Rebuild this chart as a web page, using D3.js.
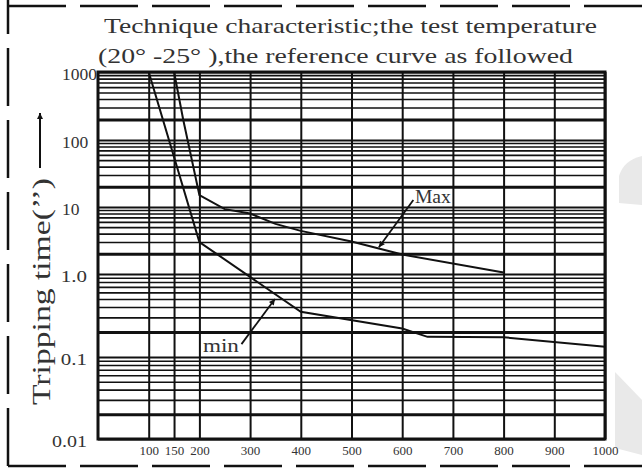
<!DOCTYPE html>
<html>
<head>
<meta charset="utf-8">
<script src="https://cdn.jsdelivr.net/npm/d3@7"></script>
<style>
  body { margin: 0; background: #fff; }
  svg text { font-family: "Liberation Serif", "DejaVu Serif", serif; fill: #333; }
</style>
</head>
<body>
<svg width="642" height="470"></svg>
<script>
const titleLines = [
  "Technique characteristic;the test temperature",
  "(20° -25° ),the reference curve as followed"
];
const yTitle = "Tripping time(’’)";

const yTickValues = [1000, 100, 10, 1, 0.1, 0.01];
const yTickLabels = ["1000", "100", "10", "1.0", "0.1", "0.01"];
const xTickValues = [100, 150, 200, 300, 400, 500, 600, 700, 800, 900, 1000];
const xTickLabels = ["100", "150", "200", "300", "400", "500", "600", "700", "800", "900", "1000"];

// Max curve (current %, seconds)
const maxCurrent = [150, 168, 200, 250, 300, 350, 400, 500, 600, 800];
const maxTime = [1000, 200, 15, 9.3, 8.0, 5.6, 4.4, 3.05, 1.95, 1.05];
// min curve
const minCurrent = [100, 200, 400, 600, 650, 800, 1000];
const minTime = [1000, 3, 0.35, 0.22, 0.175, 0.173, 0.133];

// annotations: label, text anchor, arrow tail, arrow head (data units)
const noteNames = ["Max", "min"];
const noteTextAt = [[625, 11.5], [207, 0.115]];
const noteFrom = [[622, 12.7], [283, 0.143]];
const noteTo = [[554, 2.5], [349, 0.5]];

const svg = d3.select("svg");
const plotLeft = 98, plotRight = 605, plotTop = 72, plotBottom = 439;

// the printed scale is hand drawn: decades are not all the same height
const y = d3.scaleLog()
  .domain([0.01, 0.1, 1, 10, 100, 1000])
  .range([plotBottom, 357, 274, 207, 140, plotTop]);
const x = d3.scaleLinear().domain([0, 1000]).range([plotLeft, plotRight]);

svg.append("rect").attr("width", 642).attr("height", 470).attr("fill", "#fff");

// watermark shapes at the right edge
svg.append("path")
  .attr("d", "M619,176 Q624,160 642,156 L642,205 L619,203 Z")
  .attr("fill", "#e9e9e9");
svg.append("path")
  .attr("d", "M615,372 L642,400 L642,455 L615,448 Z")
  .attr("fill", "#e9e9e9");

// dashed frame
const frame = svg.append("g")
  .attr("stroke", "#111")
  .attr("stroke-width", 2.5)
  .attr("stroke-dasharray", "58 14");
frame.append("line").attr("x1", 8).attr("y1", 6).attr("x2", 660).attr("y2", 6);
frame.append("line").attr("x1", 8).attr("y1", 466).attr("x2", 8).attr("y2", 0);
frame.append("line").attr("x1", 8).attr("y1", 466).attr("x2", 660).attr("y2", 466);

// title
svg.selectAll(".title")
  .data(titleLines)
  .enter()
  .append("text")
  .attr("class", "title")
  .attr("x", function (d, i) { return i === 0 ? 104 : 98; })
  .attr("y", function (d, i) { return 33 + i * 30; })
  .attr("font-size", 22)
  .attr("textLength", function (d, i) { return i === 0 ? 493 : 475; })
  .attr("lengthAdjust", "spacingAndGlyphs")
  .text(function (d) { return d; });

// horizontal grid lines 1..9 per decade
const gridValues = [];
[0.01, 0.1, 1, 10, 100].forEach(function (dec) {
  d3.range(1, 10).forEach(function (m) { gridValues.push(m * dec); });
});
gridValues.push(1000);

const yGrid = svg.append("g")
  .attr("transform", "translate(" + plotLeft + ",0)")
  .call(d3.axisLeft(y).tickValues(gridValues).tickSize(-(plotRight - plotLeft)).tickFormat(""));
yGrid.select(".domain").remove();
yGrid.selectAll(".tick line")
  .attr("stroke", "#111")
  .attr("stroke-width", function (d) {
    const m = Math.round(d / Math.pow(10, Math.floor(Math.log10(d) + 1e-9)));
    if (m === 2) return 3;
    if (m === 1) return 2.2;
    return 1.6;
  });

// vertical grid lines + labels
const xAxis = svg.append("g")
  .attr("transform", "translate(0," + plotBottom + ")")
  .call(d3.axisBottom(x).tickValues(xTickValues).tickSize(-(plotBottom - plotTop)).tickPadding(7)
    .tickFormat(function (d, i) { return xTickLabels[i]; }));
xAxis.select(".domain").remove();
xAxis.selectAll(".tick line").attr("stroke", "#111").attr("stroke-width", 2);
xAxis.selectAll(".tick text")
  .attr("fill", "#333")
  .attr("font-size", 13)
  .attr("font-family", "Liberation Serif, serif");

// y tick labels
svg.selectAll(".ylab")
  .data(yTickValues)
  .enter()
  .append("text")
  .attr("class", "ylab")
  .attr("x", function (d) { return d >= 10 ? 62 : 87; })
  .attr("y", function (d) { return y(d) + 2; })
  .attr("dy", "0.35em")
  .attr("text-anchor", function (d) { return d >= 10 ? "start" : "end"; })
  .attr("font-size", 17.5)
  .attr("textLength", function (d, i) { return yTickLabels[i].length * 8.75; })
  .attr("lengthAdjust", "spacingAndGlyphs")
  .text(function (d, i) { return yTickLabels[i]; });

// plot frame
svg.append("rect")
  .attr("x", plotLeft).attr("y", plotTop)
  .attr("width", plotRight - plotLeft).attr("height", plotBottom - plotTop)
  .attr("fill", "none").attr("stroke", "#111").attr("stroke-width", 3);

// curves
const line = d3.line()
  .x(function (d) { return x(d[0]); })
  .y(function (d) { return y(d[1]); });

svg.append("path")
  .datum(d3.zip(maxCurrent, maxTime))
  .attr("fill", "none").attr("stroke", "#111").attr("stroke-width", 2)
  .attr("d", line);
svg.append("path")
  .datum(d3.zip(minCurrent, minTime))
  .attr("fill", "none").attr("stroke", "#111").attr("stroke-width", 2)
  .attr("d", line);

// annotations
svg.append("defs").append("marker")
  .attr("id", "head")
  .attr("viewBox", "0 0 10 10")
  .attr("refX", 10).attr("refY", 5)
  .attr("markerWidth", 12).attr("markerHeight", 6)
  .attr("markerUnits", "userSpaceOnUse")
  .attr("orient", "auto")
  .append("path")
  .attr("d", "M0,0 L10,5 L0,10 Z")
  .attr("fill", "#111");

noteNames.forEach(function (name, i) {
  svg.append("line")
    .attr("x1", x(noteFrom[i][0])).attr("y1", y(noteFrom[i][1]))
    .attr("x2", x(noteTo[i][0])).attr("y2", y(noteTo[i][1]))
    .attr("stroke", "#111").attr("stroke-width", 1.8)
    .attr("marker-end", "url(#head)");
  svg.append("text")
    .attr("x", x(noteTextAt[i][0])).attr("y", y(noteTextAt[i][1]))
    .attr("font-size", 19)
    .attr("textLength", 36)
    .attr("lengthAdjust", "spacingAndGlyphs")
    .text(name);
});

// y axis title with arrow
svg.append("text")
  .attr("transform", "translate(50,405) rotate(-90)")
  .attr("font-size", 25)
  .attr("textLength", 227)
  .attr("lengthAdjust", "spacingAndGlyphs")
  .text(yTitle);
svg.append("line")
  .attr("x1", 40).attr("y1", 168).attr("x2", 40).attr("y2", 113)
  .attr("stroke", "#111").attr("stroke-width", 2)
  .attr("marker-end", "url(#head)");
</script>
</body>
</html>
